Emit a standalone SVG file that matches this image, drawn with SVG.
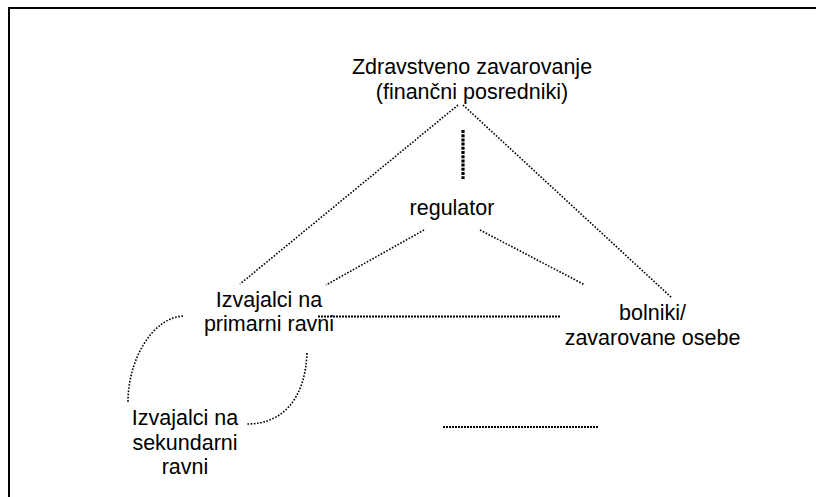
<svg xmlns="http://www.w3.org/2000/svg" width="816" height="497" viewBox="0 0 816 497">
  <style>
    .lbl { font-family: "Liberation Sans", Arial, sans-serif; font-size: 21.5px; fill: #000; text-anchor: middle; }
    .dot { fill: none; stroke: #000; stroke-width: 1.6; stroke-dasharray: 1.6 1.6; }
    .dash { fill: none; stroke: #000; stroke-width: 2; stroke-dasharray: 2 1; }
    .thick { fill: none; stroke: #000; stroke-width: 3.2; stroke-dasharray: 3 1.2; }
  </style>
  <rect width="816" height="497" fill="#fff"/>
  <!-- frame (right and bottom edges fall outside the page) -->
  <path d="M9,497 V8 H816" fill="none" stroke="#000" stroke-width="2"/>

  <g id="connectors">
    <line class="dot" x1="458" y1="105" x2="240" y2="284"/>
    <line class="dot" x1="463" y1="105" x2="672" y2="298"/>
    <line class="thick" x1="463" y1="130" x2="463" y2="179"/>
    <line class="dot" x1="424" y1="230" x2="326" y2="285"/>
    <line class="dot" x1="480" y1="230" x2="585" y2="285"/>
    <line class="dash" x1="318" y1="316.5" x2="560" y2="316.5"/>
    <line class="dash" x1="443" y1="427" x2="598" y2="427"/>
    <path class="dot" d="M183,316 C152,318 128,360 128,402"/>
    <path class="dot" d="M307,353 C305,400 282,424 247,424"/>
  </g>

  <g id="insurance">
    <text class="lbl" x="472" y="74">Zdravstveno zavarovanje</text>
    <text class="lbl" x="472" y="99">(finančni posredniki)</text>
  </g>
  <g id="regulator">
    <text class="lbl" x="452" y="215">regulator</text>
  </g>
  <g id="primary">
    <text class="lbl" x="269" y="307">Izvajalci na</text>
    <text class="lbl" x="269" y="331">primarni ravni</text>
  </g>
  <g id="patients">
    <text class="lbl" x="652.5" y="320">bolniki/</text>
    <text class="lbl" x="652.5" y="345">zavarovane osebe</text>
  </g>
  <g id="secondary">
    <text class="lbl" x="185" y="425">Izvajalci na</text>
    <text class="lbl" x="185" y="450">sekundarni</text>
    <text class="lbl" x="185" y="474">ravni</text>
  </g>
</svg>
